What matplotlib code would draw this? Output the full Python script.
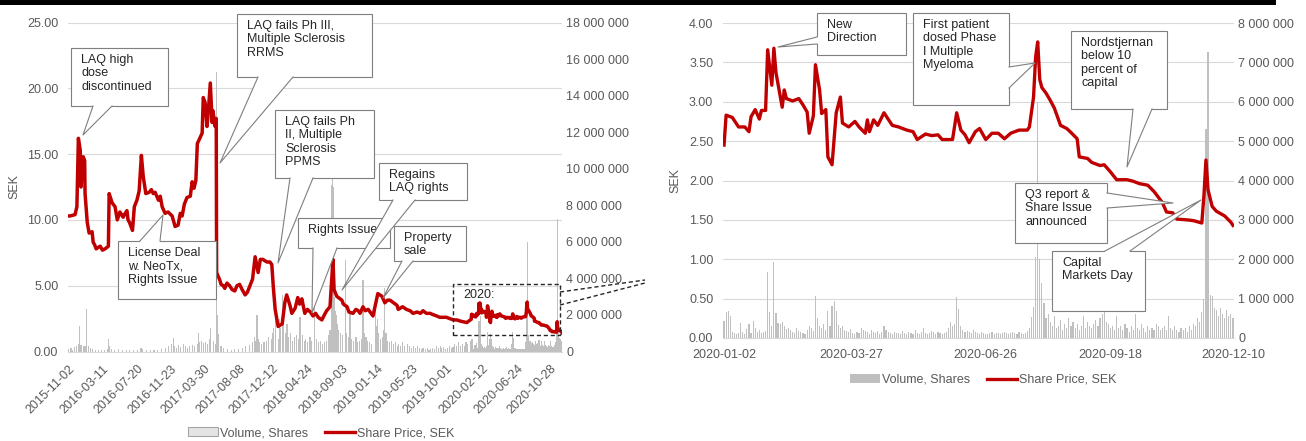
import numpy as np
import pandas as pd
import matplotlib
matplotlib.use("Agg")
import matplotlib.pyplot as plt
from matplotlib.patches import Polygon, Rectangle, Patch
from matplotlib.lines import Line2D

plt.rcParams["font.family"] = ["Liberation Sans", "DejaVu Sans"]

W, H = 1306, 441
RED = "#c00000"
BAR = "#c0c0c0"
GRID = "#d9d9d9"
TXT = "#595959"
NOTE = "#262626"

# ---- share price, 2015-11 .. 2019-12 (SEK) ----
early_dates = [
    # 2015
    "2015-11-02", "2015-11-10", "2015-11-27", "2015-12-04", "2015-12-10", "2015-12-17",
    "2015-12-21", "2015-12-29",
    # 2016
    "2016-01-04", "2016-01-05", "2016-01-13", "2016-01-20", "2016-02-01", "2016-02-04",
    "2016-02-10", "2016-02-16", "2016-02-23", "2016-03-02", "2016-03-10", "2016-03-21",
    "2016-04-01", "2016-04-05", "2016-04-15", "2016-04-27", "2016-05-05", "2016-05-16",
    "2016-05-27", "2016-06-01", "2016-06-10", "2016-06-15", "2016-06-21", "2016-07-01",
    "2016-07-08", "2016-07-19", "2016-07-27", "2016-08-04", "2016-08-11", "2016-08-22",
    "2016-09-02", "2016-09-12", "2016-09-19", "2016-09-26", "2016-10-07", "2016-10-14",
    "2016-10-21", "2016-11-02", "2016-11-14", "2016-11-29", "2016-12-09", "2016-12-21",
    "2016-12-29",
    # 2017
    "2017-01-05", "2017-01-13", "2017-01-24", "2017-02-06", "2017-02-13", "2017-02-20",
    "2017-02-27", "2017-03-03", "2017-03-10", "2017-03-22", "2017-03-27", "2017-04-03",
    "2017-04-10", "2017-04-13", "2017-04-21", "2017-04-28", "2017-05-02", "2017-05-10",
    "2017-05-15", "2017-05-16", "2017-05-29", "2017-06-01", "2017-06-09", "2017-06-15",
    "2017-06-23", "2017-07-04", "2017-07-13", "2017-07-24", "2017-08-01", "2017-08-10",
    "2017-08-21", "2017-08-31", "2017-09-08", "2017-09-19", "2017-09-28", "2017-10-09",
    "2017-10-19", "2017-10-27", "2017-11-07", "2017-11-14", "2017-11-22", "2017-12-04",
    "2017-12-11", "2017-12-15", "2017-12-22",
    # 2018
    "2018-01-03", "2018-01-18", "2018-01-29", "2018-02-05", "2018-02-16", "2018-02-23",
    "2018-03-08", "2018-03-19", "2018-03-26", "2018-04-03", "2018-04-13", "2018-04-24",
    "2018-05-04", "2018-05-15", "2018-05-24", "2018-06-04", "2018-06-11", "2018-06-18",
    "2018-06-29", "2018-07-05", "2018-07-18", "2018-07-30", "2018-08-02", "2018-08-13",
    "2018-08-31", "2018-09-06", "2018-09-20", "2018-09-27", "2018-10-12", "2018-10-24",
    "2018-11-01", "2018-11-08", "2018-11-20", "2018-11-28", "2018-12-10", "2018-12-27",
    # 2019
    "2019-01-15", "2019-01-30", "2019-02-11", "2019-02-20", "2019-03-01", "2019-03-28",
    "2019-04-02", "2019-04-18", "2019-05-02", "2019-05-16", "2019-05-28", "2019-06-12",
    "2019-06-25", "2019-07-04", "2019-07-17", "2019-07-31", "2019-08-12", "2019-08-26",
    "2019-09-05", "2019-09-18", "2019-10-01", "2019-10-14", "2019-10-28", "2019-11-08",
    "2019-11-25", "2019-12-17",
]
early_price = [
    # 2015
    10.3, 10.3, 10.4, 11.0, 16.2, 15.3,
    12.5, 14.8,
    # 2016
    14.5, 12.0, 9.8, 9.0, 9.1, 8.3,
    8.1, 7.8, 7.9, 8.0, 7.7, 7.8,
    8.0, 12.0, 11.3, 11.0, 10.0, 10.6,
    10.2, 10.4, 10.7, 10.0, 9.8, 9.2,
    11.0, 11.5, 12.2, 14.9, 13.3, 12.0,
    12.1, 12.3, 12.0, 12.1, 11.5, 11.8,
    11.0, 10.5, 10.6, 10.3, 9.5, 9.6,
    10.5,
    # 2017
    10.3, 11.2, 11.7, 11.8, 12.9, 12.4,
    13.0, 15.8, 16.1, 16.6, 19.3, 18.9,
    17.1, 18.0, 20.4, 17.4, 18.3, 17.1,
    17.7, 6.0, 5.4, 5.1, 5.0, 4.8,
    5.2, 5.0, 4.7, 4.6, 5.0, 5.1,
    4.7, 4.3, 4.5, 5.0, 5.5, 7.2,
    6.0, 7.0, 7.0, 6.9, 6.8, 6.8,
    6.6, 4.9, 3.2,
    # 2018
    1.9, 2.1, 3.7, 4.3, 3.5, 2.9,
    3.3, 4.1, 3.6, 4.0, 2.9, 3.2,
    3.0, 2.7, 2.9, 2.6, 2.5, 2.4,
    2.9, 3.1, 3.4, 7.0, 4.7, 4.2,
    3.9, 3.6, 3.4, 3.0, 2.9, 3.2,
    3.1, 2.9, 3.4, 3.1, 3.2, 2.7,
    # 2019
    4.4, 4.2, 3.7, 3.9, 3.9, 3.5,
    3.2, 3.4, 3.2, 3.1, 2.9, 3.0,
    2.9, 3.1, 2.9, 2.9, 2.8, 2.7,
    2.6, 2.6, 2.6, 2.5, 2.4, 2.4,
    2.3, 2.2,
]

# ---- share price, 2020 (SEK) ----
dates_2020 = [
    "2020-01-02", "2020-01-03", "2020-01-08", "2020-01-13", "2020-01-16", "2020-01-20",
    "2020-01-21", "2020-01-23", "2020-01-27", "2020-01-28", "2020-01-30", "2020-01-31",
    "2020-02-04", "2020-02-05", "2020-02-06", "2020-02-11", "2020-02-12", "2020-02-13",
    "2020-02-18", "2020-02-21", "2020-02-25", "2020-02-27", "2020-02-28", "2020-03-03",
    "2020-03-04", "2020-03-06", "2020-03-09", "2020-03-11", "2020-03-12", "2020-03-16",
    "2020-03-18", "2020-03-20", "2020-03-23", "2020-03-26", "2020-03-31", "2020-04-02",
    "2020-04-07", "2020-04-08", "2020-04-09", "2020-04-13", "2020-04-15", "2020-04-20",
    "2020-04-24", "2020-04-29", "2020-05-05", "2020-05-08", "2020-05-12", "2020-05-18",
    "2020-05-21", "2020-05-26", "2020-05-28", "2020-06-03", "2020-06-04", "2020-06-08",
    "2020-06-10", "2020-06-12", "2020-06-16", "2020-06-19", "2020-06-23", "2020-06-26",
    "2020-07-01", "2020-07-06", "2020-07-09", "2020-07-14", "2020-07-20", "2020-07-24",
    "2020-07-27", "2020-07-29", "2020-07-30", "2020-07-31", "2020-08-03", "2020-08-04",
    "2020-08-06", "2020-08-10", "2020-08-12", "2020-08-17", "2020-08-20", "2020-08-24",
    "2020-08-27", "2020-08-28", "2020-09-03", "2020-09-07", "2020-09-11", "2020-09-15",
    "2020-09-18", "2020-09-23", "2020-09-30", "2020-10-05", "2020-10-08", "2020-10-14",
    "2020-10-19", "2020-10-23", "2020-10-27", "2020-10-30", "2020-11-03", "2020-11-10",
    "2020-11-13", "2020-11-19", "2020-11-20", "2020-11-23", "2020-11-24", "2020-11-26",
    "2020-11-30", "2020-12-04", "2020-12-09", "2020-12-10",
]
price_2020 = [
    2.45, 2.83, 2.80, 2.68, 2.68, 2.62,
    2.81, 2.90, 2.78, 2.89, 2.89, 3.66,
    3.21, 3.68, 3.37, 2.93, 3.15, 3.04,
    3.01, 3.04, 2.96, 2.87, 2.60, 2.82,
    3.47, 3.15, 2.85, 2.90, 2.30, 2.20,
    2.86, 3.06, 2.73, 2.68, 2.75, 2.68,
    2.60, 2.77, 2.62, 2.77, 2.70, 2.86,
    2.70, 2.68, 2.64, 2.62, 2.52, 2.59,
    2.57, 2.58, 2.52, 2.52, 2.52, 2.86,
    2.64, 2.58, 2.48, 2.62, 2.66, 2.52,
    2.60, 2.60, 2.53, 2.60, 2.64, 2.64,
    2.68, 3.06, 3.57, 3.76, 3.28, 3.18,
    3.11, 3.02, 2.92, 2.70, 2.66, 2.61,
    2.53, 2.30, 2.28, 2.23, 2.19, 2.20,
    2.11, 2.01, 2.01, 1.99, 1.96, 1.94,
    1.86, 1.72, 1.60, 1.59, 1.51, 1.50,
    1.49, 1.46, 1.80, 2.26, 1.88, 1.67,
    1.61, 1.55, 1.47, 1.43,
]

# ---- traded volume, 2015-11 .. 2019-12 (million shares) ----
early_vol_dates = [
    "2015-11-04", "2015-11-12", "2015-11-19", "2015-11-26", "2015-12-03", "2015-12-10",
    "2015-12-14", "2015-12-16", "2015-12-21", "2015-12-29", "2016-01-05", "2016-01-08",
    "2016-01-12", "2016-01-18", "2016-01-26", "2016-02-03", "2016-02-12", "2016-02-24",
    "2016-03-07", "2016-03-17", "2016-03-29", "2016-04-04", "2016-04-06", "2016-04-14",
    "2016-04-26", "2016-05-10", "2016-05-25", "2016-06-08", "2016-06-22", "2016-07-06",
    "2016-07-20", "2016-08-03", "2016-08-10", "2016-08-24", "2016-09-07", "2016-09-21",
    "2016-10-05", "2016-10-19", "2016-11-02", "2016-11-16", "2016-11-25", "2016-12-02",
    "2016-12-08", "2016-12-15", "2016-12-22", "2016-12-29", "2017-01-10", "2017-01-18",
    "2017-01-26", "2017-02-03", "2017-02-14", "2017-02-22", "2017-03-03", "2017-03-07",
    "2017-03-14", "2017-03-21", "2017-03-28", "2017-04-04", "2017-04-11", "2017-04-20",
    "2017-04-24", "2017-05-03", "2017-05-10", "2017-05-16", "2017-05-17", "2017-05-19",
    "2017-05-24", "2017-06-01", "2017-06-12", "2017-06-26", "2017-07-10", "2017-07-24",
    "2017-08-07", "2017-08-21", "2017-09-04", "2017-09-18", "2017-09-28", "2017-10-06",
    "2017-10-10", "2017-10-16", "2017-10-19", "2017-10-25", "2017-11-02", "2017-11-10",
    "2017-11-20", "2017-11-29", "2017-12-07", "2017-12-14", "2017-12-18", "2017-12-22",
    "2018-01-03", "2018-01-08", "2018-01-12", "2018-01-19", "2018-01-24", "2018-01-30",
    "2018-02-06", "2018-02-13", "2018-02-20", "2018-02-27", "2018-03-06", "2018-03-13",
    "2018-03-20", "2018-03-27", "2018-04-04", "2018-04-11", "2018-04-18", "2018-04-25",
    "2018-05-03", "2018-05-10", "2018-05-22", "2018-05-29", "2018-06-05", "2018-06-12",
    "2018-06-19", "2018-06-27", "2018-07-04", "2018-07-11", "2018-07-18", "2018-07-23",
    "2018-07-25", "2018-07-27", "2018-07-30", "2018-08-01", "2018-08-03", "2018-08-07",
    "2018-08-10", "2018-08-15", "2018-08-21", "2018-08-28", "2018-09-04", "2018-09-13",
    "2018-09-18", "2018-09-25", "2018-10-02", "2018-10-09", "2018-10-16", "2018-10-24",
    "2018-10-31", "2018-11-07", "2018-11-14", "2018-11-20", "2018-11-23", "2018-11-30",
    "2018-12-07", "2018-12-14", "2018-12-21", "2019-01-04", "2019-01-09", "2019-01-15",
    "2019-01-18", "2019-01-24", "2019-01-31", "2019-02-06", "2019-02-11", "2019-02-14",
    "2019-02-21", "2019-02-28", "2019-03-07", "2019-03-14", "2019-03-21", "2019-03-28",
    "2019-04-04", "2019-04-11", "2019-04-18", "2019-04-26", "2019-05-06", "2019-05-14",
    "2019-05-22", "2019-05-29", "2019-06-05", "2019-06-13", "2019-06-20", "2019-06-27",
    "2019-07-04", "2019-07-12", "2019-07-19", "2019-07-26", "2019-08-02", "2019-08-09",
    "2019-08-16", "2019-08-23", "2019-08-30", "2019-09-06", "2019-09-13", "2019-09-20",
    "2019-09-27", "2019-10-04", "2019-10-11", "2019-10-18", "2019-10-25", "2019-11-01",
    "2019-11-08", "2019-11-15", "2019-11-22", "2019-11-29", "2019-12-06", "2019-12-13",
    "2019-12-20", "2019-12-30",
]
early_vol = [
    0.15, 0.2, 0.1, 0.25, 0.3, 0.4,
    1.4, 0.5, 0.35, 0.3, 0.3, 2.3,
    0.5, 0.3, 0.2, 0.15, 0.1, 0.1,
    0.08, 0.1, 0.12, 0.67, 0.3, 0.15,
    0.1, 0.12, 0.08, 0.1, 0.08, 0.1,
    0.08, 0.2, 0.15, 0.1, 0.08, 0.1,
    0.1, 0.15, 0.2, 0.3, 0.4, 0.73,
    0.3, 0.2, 0.35, 0.25, 0.4, 0.3,
    0.2, 0.3, 0.35, 0.3, 0.4, 1.0,
    0.5, 0.6, 0.45, 0.5, 0.4, 0.7,
    1.3, 0.6, 0.4, 15.3, 2.0, 0.9,
    0.95, 0.3, 0.2, 0.15, 0.1, 0.12,
    0.15, 0.2, 0.3, 0.35, 0.5, 0.8,
    0.6, 2.0, 0.7, 0.5, 0.4, 0.5,
    0.6, 0.8, 0.7, 1.0, 1.3, 1.9,
    0.7, 1.8, 1.3, 3.1, 1.5, 1.0,
    1.5, 0.8, 1.0, 0.6, 0.8, 0.9,
    0.7, 1.9, 0.9, 0.6, 0.7, 0.5,
    0.8, 0.6, 2.5, 0.7, 0.5, 0.6,
    0.4, 0.5, 0.6, 0.9, 1.2, 2.5,
    9.1, 9.5, 9.0, 4.0, 3.0, 2.2,
    2.0, 1.5, 1.2, 1.0, 0.9, 5.0,
    1.0, 0.8, 2.2, 0.7, 0.6, 0.8,
    0.5, 0.6, 0.7, 3.9, 1.0, 0.8,
    0.6, 0.5, 0.4, 2.4, 1.4, 1.8,
    1.0, 0.7, 0.8, 1.2, 3.5, 1.0,
    0.6, 0.5, 0.6, 0.4, 0.5, 0.3,
    0.4, 0.3, 0.5, 0.3, 0.4, 0.3,
    0.2, 0.3, 0.2, 0.3, 0.2, 0.15,
    0.2, 0.15, 0.2, 0.1, 0.15, 0.2,
    0.15, 0.3, 0.2, 0.3, 0.2, 0.25,
    0.15, 0.2, 0.3, 0.2, 0.25, 0.4,
    0.3, 0.5, 0.3, 0.4, 0.3, 0.5,
    0.4, 0.6,
]

# ---- traded volume, every session 2020-01-02 .. 2020-12-10 (thousand shares) ----
vol_2020 = [
    420, 650,
    690, 570, 150, 120, 100,
    130, 380, 150, 90, 230,
    360, 120, 440, 250, 160,
    200, 120, 150, 180, 1670,
    670, 300, 1920, 630, 380,
    350, 400, 300, 220, 250,
    200, 150, 120, 250, 180,
    150, 130, 100, 200, 300,
    250, 180, 1070, 520, 300,
    250, 350, 200, 690, 300,
    820, 940, 690, 320, 250,
    300, 200, 180, 150, 220,
    120, 100, 150, 130, 250,
    200, 180, 150, 100, 200,
    150, 120, 180, 100, 150,
    300, 200, 150, 120, 100,
    150, 130, 120, 100, 180,
    120, 100, 150, 130, 100,
    200, 120, 100, 150, 250,
    130, 100, 120, 180, 150,
    100, 150, 120, 100, 130,
    150, 250, 400, 300, 350,
    1050, 730, 300, 200, 150,
    180, 150, 120, 200, 150,
    130, 100, 150, 120, 100,
    100, 120, 150, 100, 130,
    120, 100, 130, 150, 120,
    100, 130, 150, 120, 100,
    150, 120, 100, 130, 180,
    250, 530, 800, 2060, 6000,
    2000, 1400, 900, 500, 600,
    400, 300, 550, 250, 300,
    450, 200, 350, 250, 500,
    300, 400, 250, 350, 200,
    300, 550, 250, 400, 300,
    250, 350, 450, 300, 500,
    600, 650, 400, 350, 250,
    300, 200, 550, 250, 300,
    200, 350, 250, 150, 300,
    200, 600, 250, 200, 350,
    250, 150, 300, 200, 250,
    200, 350, 300, 200, 250,
    300, 200, 550, 250, 200,
    300, 200, 150, 250, 200,
    250, 150, 300, 200, 350,
    300, 500, 400, 650, 1000,
    5300, 7260, 1100, 1060, 750,
    700, 550, 750, 600, 500,
    700, 550, 600, 500,
]

full_ticks = ["2015-11-02", "2016-03-11", "2016-07-20", "2016-11-23", "2017-03-30",
              "2017-08-08", "2017-12-12", "2018-04-24", "2018-09-03", "2019-01-14",
              "2019-05-23", "2019-10-01", "2020-02-12", "2020-06-24", "2020-10-28"]
ticks_2020 = ["2020-01-02", "2020-03-27", "2020-06-26", "2020-09-18", "2020-12-10"]

# trading-session axes (category style x axis)
sessions = pd.bdate_range("2015-11-02", "2020-12-10")
sessions_2020 = pd.bdate_range("2020-01-02", "2020-12-10")


def idx(days, dates):
    return days.searchsorted(pd.to_datetime(dates))


def fx(x):
    return x / W


def fy(y):
    return 1 - y / H


fig = plt.figure(figsize=(W / 100, H / 100), dpi=100)
fig.set_facecolor("white")


def style_axes(ax, vax, ymax, vmax, ystep, vstep, grid_vals):
    ax.set_ylim(0, ymax)
    vax.set_ylim(0, vmax)
    ax.set_yticks(np.arange(0, ymax + 1e-9, ystep))
    ax.yaxis.set_major_formatter(plt.FuncFormatter(lambda v, p: f"{v:.2f}"))
    vax.set_yticks(np.arange(0, vmax + 1, vstep))
    vax.yaxis.set_major_formatter(
        plt.FuncFormatter(lambda v, p: f"{v:,.0f}".replace(",", " ")))
    for g in grid_vals:
        vax.axhline(g / ymax * vmax, color=GRID, lw=0.8, zorder=0)
    for a in (ax, vax):
        for s in a.spines.values():
            s.set_visible(False)
        a.tick_params(length=0, labelsize=9, colors=TXT)
    vax.spines["bottom"].set_visible(True)
    vax.spines["bottom"].set_color(GRID)
    ax.set_zorder(vax.get_zorder() + 1)
    ax.patch.set_visible(False)
    ax.tick_params(axis="y", pad=7)
    vax.tick_params(axis="y", pad=3)
    ax.set_ylabel("SEK", fontsize=9, color=TXT)


# ---------------- left: whole period ----------------
axL = fig.add_axes([fx(68), fy(351.5), fx(562 - 68), (351.5 - 22.5) / H])
vL = axL.twinx()
style_axes(axL, vL, 25, 18e6, 5, 2e6, [5, 10, 15, 20, 25])
axL.set_xlim(0, len(sessions) - 1)

vol_x = np.concatenate([idx(sessions, early_vol_dates), idx(sessions, sessions_2020)])
vol_y = np.concatenate([np.array(early_vol) * 1e6, np.array(vol_2020) * 1e3])
vL.bar(vol_x, vol_y, width=3, color=BAR, linewidth=0, zorder=1)

px_x = np.concatenate([idx(sessions, early_dates), idx(sessions, dates_2020)])
px_y = np.concatenate([early_price, price_2020])
axL.plot(px_x, px_y, color=RED, lw=2.5, solid_joinstyle="round", zorder=3)

axL.set_xticks(idx(sessions, full_ticks))
axL.set_xticklabels(full_ticks, rotation=45, ha="right", va="top",
                    rotation_mode="anchor")
axL.tick_params(axis="x", pad=8)
axL.yaxis.set_label_coords(-0.097, 0.5)

# ---------------- right: 2020 ----------------
axR = fig.add_axes([fx(723), fy(338), fx(1234 - 723), (338 - 23) / H])
vR = axR.twinx()
style_axes(axR, vR, 4, 8e6, 0.5, 1e6, [0.5, 1, 1.5, 2, 2.5, 3, 3.5, 4])
axR.set_xlim(-0.5, len(sessions_2020) - 0.5)

vR.bar(np.arange(len(sessions_2020)), np.array(vol_2020) * 1e3, width=0.55,
       color=BAR, linewidth=0, zorder=1)
axR.plot(idx(sessions_2020, dates_2020), price_2020, color=RED, lw=2.4,
         solid_joinstyle="round", zorder=3)
axR.set_xticks(idx(sessions_2020, ticks_2020))
axR.set_xticklabels(ticks_2020)
axR.tick_params(axis="x", pad=8)
axR.yaxis.set_label_coords(-0.082, 0.5)

# ---------------- call-outs ----------------
notes = [
    ("LAQ high\ndose\ndiscontinued", (71, 48, 168, 106), ((93, 106), (112, 106)), (83, 135), "bottom"),
    ("License Deal\nw. NeoTx,\nRights Issue", (118, 241, 216, 299), ((140, 241), (160, 241)), (163, 215), "top"),
    ("LAQ fails Ph III,\nMultiple Sclerosis\nRRMS", (237, 14, 372, 77), ((258, 77), (293, 77)), (220, 163), "bottom"),
    ("LAQ fails Ph\nII, Multiple\nSclerosis\nPPMS", (275, 110, 374, 178), ((290, 178), (313, 178)), (278, 263), "bottom"),
    ("Rights Issue", (298, 218, 390, 248), ((313, 248), (337, 248)), (312, 313), "bottom"),
    ("Regains\nLAQ rights", (379, 163, 467, 200), ((393, 200), (415, 200)), (342, 290), "bottom"),
    ("Property\nsale", (394, 226, 466, 261), ((402, 261), (413, 261)), (383, 298), "bottom"),
    ("New\nDirection", (817, 13, 906, 55), ((817, 37), (817, 44)), (778, 47), "left"),
    ("First patient\ndosed Phase\nI Multiple\nMyeloma", (913, 13, 1009, 105), ((1009, 67), (1009, 88)), (1035, 63), "right"),
    ("Nordstjernan\nbelow 10\npercent of\ncapital", (1071, 31, 1167, 109), ((1133, 109), (1152, 109)), (1127, 167), "bottom"),
    ("Q3 report &\nShare Issue\nannounced", (1015, 183, 1107, 243), ((1107, 193), (1107, 208)), (1173, 203), "right"),
    ("Capital\nMarkets Day", (1052, 251, 1145, 311), ((1105, 251), (1130, 251)), (1201, 200), "top"),
]
inward = {"bottom": (0, -2), "top": (0, 2), "left": (2, 0), "right": (-2, 0)}

for k, (text, (x0, y0, x1, y1), (b1, b2), tip, side) in enumerate(notes):
    z = 20 + 4 * k
    fig.add_artist(Rectangle((fx(x0), fy(y1)), fx(x1 - x0), (y1 - y0) / H,
                             transform=fig.transFigure, facecolor="white",
                             edgecolor="#7f7f7f", lw=0.8, zorder=z))
    dx, dy = inward[side]
    wedge = [(b1[0] + dx, b1[1] + dy), b1, tip, b2, (b2[0] + dx, b2[1] + dy)]
    fig.add_artist(Polygon([(fx(a), fy(b)) for a, b in wedge], closed=True,
                           transform=fig.transFigure, facecolor="white",
                           edgecolor="none", zorder=z + 1))
    fig.add_artist(Line2D([fx(b1[0]), fx(tip[0]), fx(b2[0])],
                          [fy(b1[1]), fy(tip[1]), fy(b2[1])],
                          transform=fig.transFigure, color="#7f7f7f", lw=0.8,
                          zorder=z + 2))
    fig.text(fx(x0 + 10), fy(y0 + 6), text, ha="left", va="top", fontsize=9,
             color=NOTE, linespacing=1.15, zorder=z + 3)

# dashed frame around 2020 in the long chart, leading to the zoomed chart
fig.add_artist(Rectangle((fx(453), fy(335)), fx(560 - 453), (335 - 284) / H,
                         transform=fig.transFigure, facecolor="none",
                         edgecolor="#262626", lw=1, ls=(0, (3, 2)), zorder=15))
fig.text(fx(463), fy(289), "2020:", ha="left", va="top", fontsize=9,
         color=NOTE, zorder=16)
for ya, yb in ((292, 280), (305, 283)):
    fig.add_artist(Line2D([fx(560), fx(645)], [fy(ya), fy(yb)],
                          transform=fig.transFigure, color="#262626", lw=1,
                          ls=(0, (3, 2)), zorder=15))

# black rule along the top edge
fig.add_artist(Rectangle((0, fy(5)), fx(1276), 5 / H, transform=fig.transFigure,
                         facecolor="black", edgecolor="none", zorder=50))

# legends
hL = [Patch(facecolor="#e4e4e4", edgecolor="#a6a6a6", lw=0.8, label="Volume, Shares"),
      Line2D([], [], color=RED, lw=2.4, label="Share Price, SEK")]
hR = [Patch(facecolor="#bfbfbf", edgecolor="none", label="Volume, Shares"),
      Line2D([], [], color=RED, lw=2.4, label="Share Price, SEK")]
for handles, (cx, cy) in ((hL, (321, 433)), (hR, (983, 380))):
    leg = fig.legend(handles=handles, loc="center", bbox_to_anchor=(fx(cx), fy(cy)),
                     ncol=2, frameon=False, fontsize=9, handlelength=2.4,
                     handletextpad=0.2, columnspacing=1.3, borderpad=0)
    for t in leg.get_texts():
        t.set_color(TXT)

fig.savefig("out.png", dpi=100, facecolor="white")
